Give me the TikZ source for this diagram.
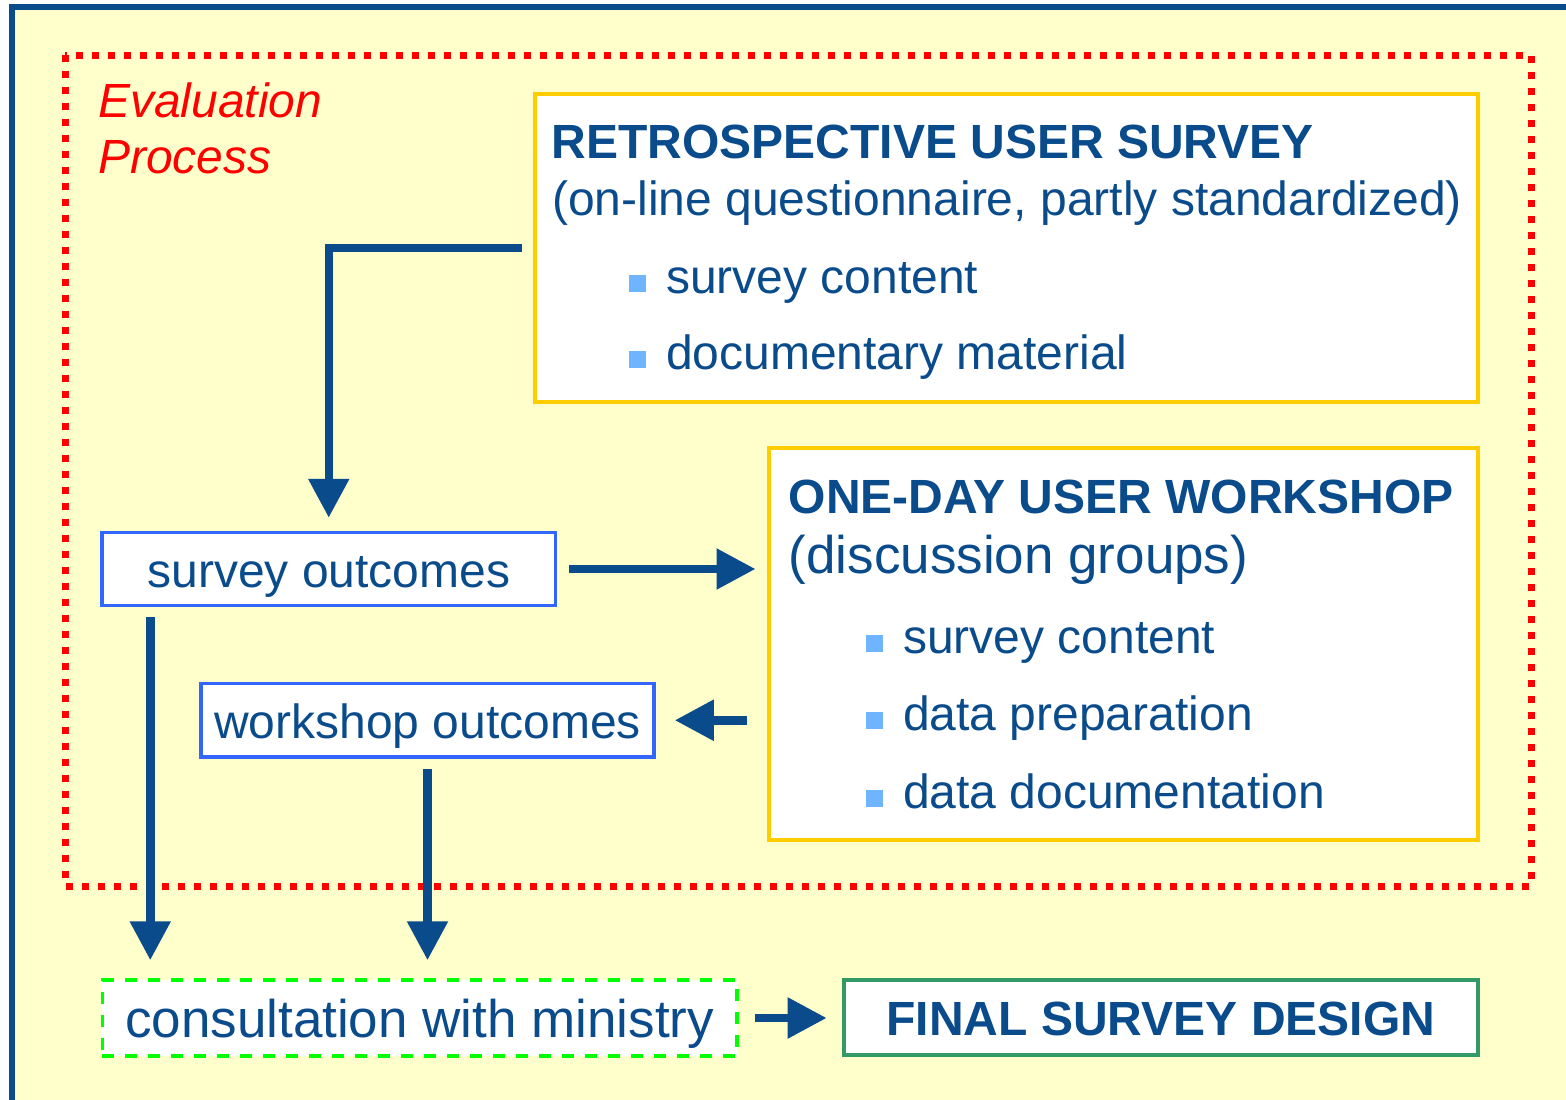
\documentclass[tikz,border=0pt]{standalone}
\usepackage{fontspec}
\setmainfont{Liberation Sans}
\usetikzlibrary{arrows.meta,calc}
\definecolor{dblue}{HTML}{0A4B8C}
\definecolor{bgyellow}{HTML}{FFFFCC}
\definecolor{boxyellow}{HTML}{FFCC00}
\definecolor{boxblue}{HTML}{3366FF}
\definecolor{boxgreen}{HTML}{339966}
\definecolor{dashgreen}{HTML}{00FF00}
\definecolor{bulblue}{HTML}{6EB4FF}
\newcommand{\sqbul}{\textcolor{bulblue}{\rule[1pt]{17pt}{17pt}}\hspace{20pt}}
\begin{document}
\begin{tikzpicture}[x=1pt,y=-1pt,
  bigfont/.style={font=\fontsize{48}{57.6}\selectfont},
  txt/.style={bigfont, text=dblue, inner sep=0pt, anchor=base west},
  mainbox/.style={draw=boxyellow, line width=4pt, fill=white, inner sep=0pt},
  outbox/.style={draw=boxblue, line width=3.5pt, fill=white, inner sep=0pt,
     bigfont, text=dblue, text height=46pt, text depth=10pt},
  arr/.style={draw=dblue, line width=8.5pt, -{Triangle[length=39pt,width=39pt]}}
]
\useasboundingbox (0,0) rectangle (1566,1100);
\clip (0,0) rectangle (1566,1100);
\fill[white] (0,0) rectangle (1566,1100);
% outer frame
\draw[draw=dblue, line width=6pt, fill=bgyellow] (12,7) rectangle (1620,1140);
% evaluation process region
\draw[red, line width=7pt, dash pattern=on 7pt off 9pt] (65,55) rectangle (1531,886);
\node[txt, text=red, font=\fontsize{48}{57.6}\selectfont\itshape] (evl1) at (98,117) {Evaluation};
\node[txt, text=red, font=\fontsize{48}{57.6}\selectfont\itshape] (evl2) at (98,173) {Process};

% retrospective survey box
\node[mainbox, minimum width=943.5pt, minimum height=308.5pt] (retro) at (1006.25,247.75) {};
\node[txt, font=\fontsize{48}{57.6}\selectfont\bfseries] (rt1) at (551.5,158) {RETROSPECTIVE USER SURVEY};
\node[txt] (rt2) at (552,215) {(on-line questionnaire, partly standardized)};
\node[txt] (rb1) at (629,293) {\sqbul survey content};
\node[txt] (rb2) at (629,369) {\sqbul documentary material};

% workshop box
\node[mainbox, minimum width=709.5pt, minimum height=391.7pt] (ws) at (1123.25,644.15) {};
\node[txt, font=\fontsize{48}{57.6}\selectfont\bfseries] (wt1) at (788.5,513) {ONE-DAY USER WORKSHOP};
\node[txt, font=\fontsize{53}{63}\selectfont] (wt2) at (788.5,573) {(discussion groups)};
\node[txt] (wb1) at (866,653) {\sqbul survey content};
\node[txt] (wb2) at (866,730) {\sqbul data preparation};
\node[txt] (wb3) at (866,808) {\sqbul data documentation};

% outcome boxes
\node[outbox, minimum width=453.5pt, minimum height=73pt] (so) at (328.75,569) {survey outcomes};
\node[outbox, minimum width=453pt, minimum height=73.5pt] (wo) at (427.5,720.25) {workshop outcomes};

% bottom row
\node[draw=dashgreen, line width=3.5pt, dash pattern=on 12pt off 11pt, fill=white, inner sep=0pt,
      minimum width=634.7pt, minimum height=76pt, font=\fontsize{53}{63}\selectfont, text=dblue,
      text height=50pt, text depth=12pt] (cons) at (419.65,1018) {consultation with ministry};
\node[draw=boxgreen, line width=4pt, fill=white, inner sep=0pt,
      minimum width=634.3pt, minimum height=75pt, font=\fontsize{48}{57.6}\selectfont\bfseries, text=dblue,
      text height=45pt, text depth=10pt] (fin) at (1160.85,1017.5) {FINAL SURVEY DESIGN};

% connectors
\draw[arr] ([xshift=-11pt]retro.west) -| ([yshift=13pt]so.north);
\draw[arr] ([xshift=12pt]so.east) -- ([xshift=-11pt]so.east -| ws.west);
\draw[arr] ([xshift=-20pt]wo.east -| ws.west) -- ([xshift=19pt]wo.east);
\coordinate (s1) at ([shift={(50pt,-9.5pt)}]so.south west);
\coordinate (c1) at ([yshift=18pt]cons.north);
\coordinate (w1) at ([yshift=-10pt]wo.south);
\draw[arr] (s1) -- (s1 |- c1);
\draw[arr] (w1) -- (w1 |- c1);
\draw[arr] ([xshift=16pt]cons.east) -- ([xshift=-15pt]cons.east -| fin.west);
\end{tikzpicture}
\end{document}
